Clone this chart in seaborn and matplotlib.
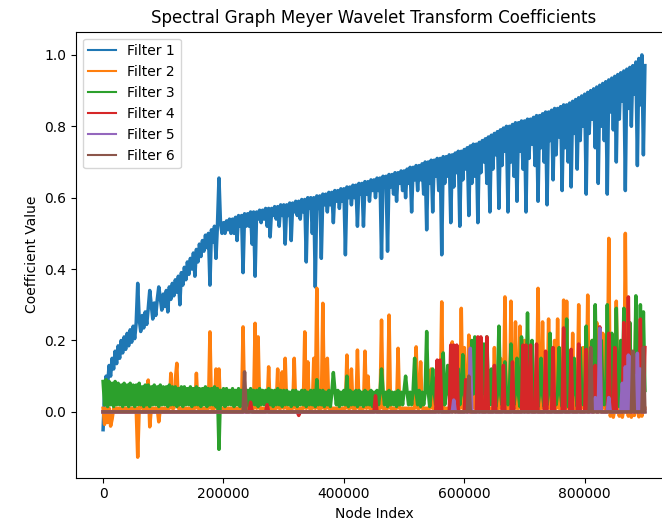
import numpy as np
import pandas as pd
import matplotlib
matplotlib.use("Agg")
import matplotlib.pyplot as plt
from matplotlib.lines import Line2D
import seaborn as sns

# ---------------- data ----------------
NODE_STEP = 2500          # node index spacing of the sampled coefficients
N_POINTS = 361            # 0 .. 900000

FILTER_NAMES = ["Filter 1", "Filter 2", "Filter 3", "Filter 4", "Filter 5", "Filter 6"]

# Filter 1: upper edge (even samples) and lower samples (odd samples)
blue_top = [
    -0.05, 0.10, 0.13, 0.15, 0.17, 0.185, 0.20, 0.21, 0.22, 0.23,
    0.24, 0.25, 0.26, 0.27, 0.28, 0.29, 0.30, 0.305, 0.315, 0.32,
    0.33, 0.34, 0.35, 0.36, 0.37, 0.38, 0.39, 0.405, 0.42, 0.43,
    0.445, 0.455, 0.47, 0.48, 0.495, 0.50, 0.51, 0.52, 0.525, 0.53,
    0.53, 0.535, 0.54, 0.54, 0.545, 0.55, 0.55, 0.555, 0.555, 0.56,
    0.56, 0.56, 0.565, 0.565, 0.57, 0.57, 0.57, 0.575, 0.575, 0.58,
    0.58, 0.58, 0.585, 0.585, 0.59, 0.59, 0.595, 0.595, 0.60, 0.60,
    0.60, 0.605, 0.605, 0.61, 0.61, 0.615, 0.615, 0.62, 0.62, 0.625,
    0.625, 0.63, 0.63, 0.635, 0.635, 0.64, 0.64, 0.645, 0.645, 0.65,
    0.65, 0.655, 0.655, 0.66, 0.66, 0.665, 0.665, 0.67, 0.67, 0.675,
    0.675, 0.68, 0.685, 0.685, 0.69, 0.69, 0.695, 0.70, 0.70, 0.705,
    0.705, 0.71, 0.71, 0.715, 0.715, 0.72, 0.72, 0.725, 0.73, 0.73,
    0.735, 0.74, 0.745, 0.75, 0.75, 0.755, 0.76, 0.765, 0.77, 0.775,
    0.78, 0.785, 0.79, 0.795, 0.80, 0.80, 0.805, 0.81, 0.81, 0.815,
    0.815, 0.82, 0.82, 0.825, 0.83, 0.83, 0.835, 0.84, 0.84, 0.845,
    0.85, 0.85, 0.855, 0.86, 0.86, 0.865, 0.87, 0.875, 0.88, 0.885,
    0.89, 0.895, 0.90, 0.905, 0.91, 0.915, 0.92, 0.925, 0.93, 0.935,
    0.94, 0.945, 0.95, 0.955, 0.96, 0.965, 0.97, 0.98, 0.99, 1.0,
    0.97,
]
blue_low = [
    0.06, 0.075, 0.10, 0.12, 0.135, 0.15, 0.165, 0.175, 0.185, 0.195,
    0.205, 0.36, 0.225, 0.235, 0.245, 0.34, 0.26, 0.27, 0.35, 0.285,
    0.295, 0.28, 0.315, 0.325, 0.335, 0.30, 0.355, 0.37, 0.385, 0.40,
    0.38, 0.42, 0.435, 0.45, 0.46, 0.355, 0.475, 0.43, 0.655, 0.50,
    0.50, 0.51, 0.50, 0.50, 0.48, 0.52, 0.39, 0.52, 0.52, 0.47,
    0.38, 0.54, 0.53, 0.54, 0.52, 0.49, 0.55, 0.54, 0.52, 0.55,
    0.47, 0.55, 0.48, 0.56, 0.55, 0.54, 0.56, 0.42, 0.57, 0.50,
    0.35, 0.57, 0.43, 0.58, 0.56, 0.58, 0.53, 0.59, 0.57, 0.59,
    0.44, 0.60, 0.58, 0.60, 0.52, 0.61, 0.52, 0.61, 0.59, 0.62,
    0.60, 0.62, 0.43, 0.63, 0.45, 0.63, 0.61, 0.59, 0.64, 0.62,
    0.60, 0.64, 0.56, 0.65, 0.62, 0.65, 0.61, 0.51, 0.64, 0.56,
    0.66, 0.62, 0.44, 0.64, 0.66, 0.53, 0.63, 0.67, 0.52, 0.65,
    0.68, 0.55, 0.64, 0.66, 0.53, 0.67, 0.70, 0.64, 0.56, 0.68,
    0.72, 0.57, 0.69, 0.73, 0.56, 0.70, 0.66, 0.59, 0.73, 0.68,
    0.56, 0.71, 0.75, 0.69, 0.59, 0.74, 0.70, 0.58, 0.76, 0.65,
    0.72, 0.77, 0.62, 0.74, 0.70, 0.63, 0.78, 0.68, 0.76, 0.80,
    0.61, 0.78, 0.82, 0.74, 0.64, 0.80, 0.76, 0.61, 0.84, 0.79,
    0.70, 0.82, 0.87, 0.62, 0.85, 0.80, 0.89, 0.69, 0.86, 0.72,
]

# Filter 3: band upper edge (even samples) and lower edge (odd samples)
green_top = [
    0.085, 0.09, 0.085, 0.08, 0.085, 0.08, 0.075, 0.08, 0.075, 0.08,
    0.075, 0.075, 0.08, 0.07, 0.075, 0.075, 0.07, 0.075, 0.07, 0.075,
    0.07, 0.07, 0.075, 0.07, 0.07, 0.065, 0.07, 0.07, 0.065, 0.07,
    0.065, 0.07, 0.065, 0.065, 0.07, 0.065, 0.065, 0.07, 0.065, 0.06,
    0.065, 0.065, 0.06, 0.065, 0.06, 0.065, 0.06, 0.065, 0.06, 0.065,
    0.06, 0.06, 0.065, 0.06, 0.06, 0.065, 0.06, 0.06, 0.065, 0.06,
    0.06, 0.06, 0.055, 0.06, 0.06, 0.055, 0.06, 0.06, 0.055, 0.06,
    0.06, 0.055, 0.06, 0.06, 0.055, 0.06, 0.055, 0.06, 0.06, 0.055,
    0.06, 0.055, 0.06, 0.055, 0.06, 0.06, 0.055, 0.06, 0.055, 0.06,
    0.055, 0.06, 0.055, 0.06, 0.055, 0.06, 0.055, 0.055, 0.06, 0.055,
    0.06, 0.055, 0.055, 0.06, 0.055, 0.06, 0.055, 0.055, 0.06, 0.055,
    0.055, 0.06, 0.055, 0.055, 0.05, 0.055, 0.055, 0.05, 0.055, 0.055,
    0.05, 0.055, 0.055, 0.05, 0.055, 0.05, 0.055, 0.05, 0.055, 0.05,
    0.055, 0.05, 0.055, 0.05, 0.05, 0.055, 0.05, 0.055, 0.05, 0.05,
    0.055, 0.05, 0.05, 0.055, 0.05, 0.055, 0.05, 0.05, 0.055, 0.05,
    0.05, 0.055, 0.05, 0.05, 0.055, 0.05, 0.05, 0.055, 0.05, 0.05,
    0.055, 0.05, 0.05, 0.055, 0.05, 0.05, 0.055, 0.05, 0.05, 0.055,
    0.05, 0.05, 0.055, 0.05, 0.05, 0.055, 0.05, 0.05, 0.055, 0.05,
    0.06,
]
green_low = [
    0.02, 0.015, 0.02, 0.015, 0.02, 0.02, 0.015, 0.02, 0.015, 0.02,
    0.015, 0.02, 0.02, 0.015, 0.02, 0.015, 0.02, 0.02, 0.015, 0.02,
    0.02, 0.015, 0.02, 0.02, 0.015, 0.02, 0.015, 0.02, 0.02, 0.015,
    0.02, 0.02, 0.015, 0.02, 0.015, 0.02, 0.02, 0.015, 0.02, 0.02,
    0.015, 0.02, 0.02, 0.015, 0.02, 0.015, 0.02, 0.02, 0.015, 0.02,
    0.02, 0.015, 0.02, 0.02, 0.015, 0.02, 0.015, 0.02, 0.02, 0.015,
    0.02, 0.02, 0.015, 0.02, 0.015, 0.02, 0.02, 0.015, 0.02, 0.02,
    0.015, 0.02, 0.02, 0.015, 0.02, 0.015, 0.02, 0.02, 0.015, 0.02,
    0.02, 0.015, 0.02, 0.02, 0.015, 0.02, 0.015, 0.02, 0.02, 0.015,
    0.02, 0.02, 0.015, 0.02, 0.015, 0.02, 0.02, 0.015, 0.02, 0.02,
    0.015, 0.02, 0.02, 0.015, 0.02, 0.015, 0.02, 0.02, 0.015, 0.02,
    0.02, 0.015, 0.02, 0.02, 0.015, 0.02, 0.015, 0.02, 0.02, 0.015,
    0.02, 0.02, 0.015, 0.02, 0.015, 0.02, 0.02, 0.015, 0.02, 0.02,
    0.015, 0.02, 0.02, 0.015, 0.02, 0.015, 0.02, 0.02, 0.015, 0.02,
    0.02, 0.015, 0.02, 0.02, 0.015, 0.02, 0.015, 0.02, 0.02, 0.015,
    0.02, 0.02, 0.015, 0.02, 0.015, 0.02, 0.02, 0.015, 0.02, 0.02,
    0.015, 0.02, 0.02, 0.015, 0.02, 0.015, 0.02, 0.02, 0.015, 0.02,
    0.02, 0.015, 0.02, 0.02, 0.015, 0.02, 0.015, 0.02, 0.02, 0.015,
]
green_spike_nodes = [192500, 355000, 382500, 405000, 462500, 502500, 517500, 537500,
                     547500, 565000, 572500, 590000, 597500, 612500, 617500, 622500,
                     632500, 637500, 645000, 657500, 667500, 677500, 687500, 695000,
                     705000, 712500, 727500, 742500, 757500, 770000, 782500, 792500,
                     802500, 812500, 817500, 827500, 837500, 845000, 852500, 860000,
                     865000, 875000, 885000, 892500, 897500]
green_spike_vals = [-0.105, 0.09, 0.11, 0.10, 0.12, 0.10, 0.15, 0.225,
                    0.12, 0.165, 0.13, 0.12, 0.16, 0.20, 0.21, 0.20,
                    0.19, 0.21, 0.12, 0.24, 0.14, 0.19, 0.15, 0.21,
                    0.277, 0.20, 0.15, 0.22, 0.18, 0.26, 0.15, 0.18,
                    0.24, 0.20, 0.30, 0.20, 0.30, 0.22, 0.29, 0.20,
                    0.29, 0.25, 0.325, 0.30, 0.28]

# Filter 2: near-zero baseline with spikes
orange_base = 0.01
orange_spike_nodes = [2500, 7500, 12500, 15000, 57500, 62500, 75000, 77500, 92500,
                      112500, 120000, 122500, 155000, 177500, 187500, 192500,
                      232500, 252500, 257500, 275000, 290000, 297500, 302500,
                      317500, 335000, 340000, 350000, 355000, 365000, 372500,
                      405000, 412500, 422500, 435000, 440000, 462500, 475000,
                      490000, 520000, 527500, 545000, 562500, 580000, 595000,
                      600000, 607500, 615000, 630000, 650000, 660000, 667500,
                      677500, 685000, 692500, 700000, 710000, 722500, 730000,
                      740000, 750000, 755000, 765000, 770000, 780000, 790000,
                      797500, 805000, 812500, 820000, 830000, 840000, 842500,
                      847500, 852500, 857500, 862500, 867500, 872500, 877500,
                      882500, 885000, 890000, 895000]
orange_spike_vals = [-0.035, -0.03, -0.04, -0.02, -0.127, 0.05, 0.089, -0.042, -0.028,
                     0.108, 0.09, 0.136, 0.108, 0.224, 0.12, 0.12,
                     0.238, 0.248, 0.21, 0.126, 0.12, 0.112, 0.15,
                     0.15, 0.224, 0.14, 0.15, 0.346, 0.304, 0.15,
                     0.159, 0.12, 0.173, 0.17, 0.10, 0.257, 0.271,
                     0.178, 0.182, 0.14, 0.12, 0.308, 0.196, 0.29,
                     0.18, 0.215, 0.17, 0.164, 0.18, 0.15, 0.322,
                     0.31, 0.252, 0.24, 0.20, 0.17, 0.346, 0.252,
                     0.26, 0.20, 0.26, 0.313, 0.31, 0.22, 0.30,
                     0.18, 0.327, 0.20, 0.25, 0.22, 0.486, -0.012,
                     -0.015, 0.31, -0.012, -0.015, 0.50, -0.012, -0.015,
                     -0.01, 0.29, -0.014, -0.012]

# Filter 4: zero baseline with spikes
red_spike_nodes = [245000, 272500, 325000, 452500, 555000, 560000, 577500,
                   582500, 587500, 602500, 622500, 627500, 637500,
                   650000, 665000, 680000, 697500, 702500,
                   710000, 720000, 735000, 747500, 765000, 777500,
                   790000, 802500, 817500, 825000, 840000, 850000, 865000, 872500,
                   885000, 892500, 900000]
red_spike_vals = [0.027, 0.02, -0.01, 0.045, 0.145, 0.145, 0.187,
                  0.187, 0.187, 0.09, 0.21, 0.21, 0.21,
                  0.13, 0.13, 0.14, 0.187, 0.187,
                  0.187, 0.19, 0.17, 0.18, 0.235, 0.175,
                  0.19, 0.175, 0.13, 0.238, 0.22, 0.18, 0.25, 0.322,
                  0.15, 0.26, 0.18]

# Filter 5: zero baseline with spikes
purple_spike_nodes = [582500, 610000, 817500, 825000, 840000, 862500, 867500,
                      872500, 877500, 882500, 887500, 892500, 897500]
purple_spike_vals = [0.033, 0.178, 0.04, 0.234, 0.04, 0.08, 0.126,
                     0.159, 0.154, 0.10, 0.164, 0.12, 0.04]

# Filter 6: zero baseline with spikes
brown_spike_nodes = [235000, 607500, 810000, 880000, 897500]
brown_spike_vals = [0.112, 0.10, 0.18, 0.17, 0.18]

# ---------------- build series ----------------
nodes = np.arange(N_POINTS) * NODE_STEP


def interleave(top, low):
    y = np.empty(N_POINTS)
    y[0::2] = top
    y[1::2] = low
    return y


def with_spikes(base, spike_nodes, spike_vals):
    y = np.array(base, dtype=float) if np.ndim(base) else np.full(N_POINTS, float(base))
    idx = np.asarray(spike_nodes) // NODE_STEP
    y[idx] = spike_vals
    return y


series = [
    interleave(blue_top, blue_low),
    with_spikes(orange_base, orange_spike_nodes, orange_spike_vals),
    with_spikes(interleave(green_top, green_low), green_spike_nodes, green_spike_vals),
    with_spikes(0.0, red_spike_nodes, red_spike_vals),
    with_spikes(0.0, purple_spike_nodes, purple_spike_vals),
    with_spikes(0.0, brown_spike_nodes, brown_spike_vals),
]

df = pd.concat(
    [pd.DataFrame({"Node Index": nodes, "Coefficient Value": s, "Filter": name})
     for name, s in zip(FILTER_NAMES, series)],
    ignore_index=True,
)

# ---------------- plot ----------------
colors = sns.color_palette("tab10")[:6]
fig = plt.figure(figsize=(6.62, 5.32), dpi=100)
ax = fig.add_axes([0.1148, 0.1024, 0.9003, 0.838])

for name, col in zip(FILTER_NAMES, colors):
    sub = df[df["Filter"] == name]
    sns.lineplot(data=sub, x="Node Index", y="Coefficient Value", color=col,
                 estimator=None, sort=False, linewidth=2.5, ax=ax)

ax.set_xlim(-45000, 945000)
ax.set_ylim(-0.184, 1.065)
ax.set_title("Spectral Graph Meyer Wavelet Transform Coefficients")
ax.set_xlabel("Node Index")
ax.set_ylabel("Coefficient Value")
handles = [Line2D([], [], color=c, linewidth=1.5) for c in colors]
ax.legend(handles, FILTER_NAMES, loc="upper left")

fig.savefig("out.png", dpi=100)
